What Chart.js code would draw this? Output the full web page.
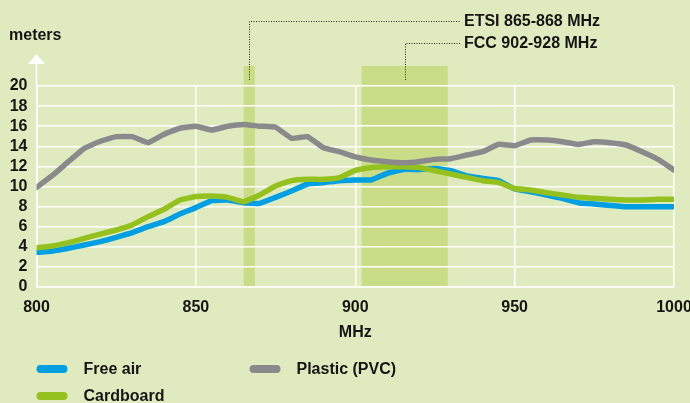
<!DOCTYPE html>
<html>
<head>
<meta charset="utf-8">
<script src="https://cdn.jsdelivr.net/npm/chart.js@4.4.1/dist/chart.umd.min.js"></script>
<style>
  html, body { margin: 0; padding: 0; background: #dfebbe; }
  #wrap { width: 690px; height: 403px; position: relative; }
</style>
</head>
<body>
<div id="wrap"><canvas id="myChart"></canvas></div>
<script>
// frequencies (MHz)
var freqs = [800, 805, 810, 815, 820, 825, 830, 835, 840, 845,
             850, 855, 860, 865, 870, 875, 880, 885, 890, 895,
             900, 905, 910, 915, 920, 925, 930, 935, 940, 945,
             950, 955, 960, 965, 970, 975, 980, 985, 990, 995, 1000]

// read range in meters
var freeAir = [3.45, 3.58, 3.85, 4.18, 4.51, 4.94, 5.4, 6.0, 6.5, 7.26,
               7.9, 8.59, 8.65, 8.39, 8.32, 8.92, 9.55, 10.25, 10.38, 10.58,
               10.65, 10.65, 11.31, 11.7, 11.7, 11.8, 11.57, 11.04, 10.81, 10.58,
               9.75, 9.48, 9.15, 8.82, 8.39, 8.26, 8.12, 7.99, 7.99, 7.99, 7.99]
var cardboard = [3.91, 4.08, 4.41, 4.84, 5.27, 5.67, 6.17, 7.0, 7.73, 8.65,
                 9.0, 9.05, 8.92, 8.49, 9.15, 10.05, 10.58, 10.71, 10.71, 10.88,
                 11.6, 11.9, 11.97, 11.97, 11.9, 11.57, 11.24, 10.91, 10.58, 10.38,
                 9.8, 9.65, 9.38, 9.15, 8.92, 8.82, 8.72, 8.65, 8.65, 8.72, 8.72]
var plastic = [9.9, 11.1, 12.47, 13.8, 14.5, 14.96, 14.96, 14.36, 15.2, 15.8,
               16.0, 15.62, 16.0, 16.18, 16.0, 15.9, 14.8, 14.96, 13.86, 13.46,
               12.95, 12.64, 12.47, 12.37, 12.47, 12.7, 12.77, 13.13, 13.46, 14.2,
               14.06, 14.62, 14.62, 14.46, 14.19, 14.46, 14.36, 14.13, 13.46, 12.7, 11.64]

// regulatory bands
var bandNames = ['ETSI 865-868 MHz', 'FCC 902-928 MHz']
var bandFrom = [865, 902]
var bandTo = [868.5, 929]

var seriesNames = ['Free air', 'Plastic (PVC)', 'Cardboard']
var seriesColors = ['#009fe3', '#8a8a8d', '#95c11f']

var FONT = '"Liberation Sans", Arial, sans-serif'
var INK = '#151515'

function pts(arr) {
    return freqs.map(function(f, i){ return {x: f, y: arr[i]} })
}

var decor = {
    id: 'decor',
    beforeDraw: function(chart) {
        var ctx = chart.ctx, x = chart.scales.x, y = chart.scales.y
        ctx.save()
        ctx.fillStyle = '#c9dc88'
        for (var i = 0; i < bandFrom.length; i++) {
            var x1 = x.getPixelForValue(bandFrom[i])
            var x2 = x.getPixelForValue(bandTo[i])
            var top = y.getPixelForValue(22)
            ctx.fillRect(x1, top, x2 - x1, y.getPixelForValue(0) - top)
        }
        ctx.restore()
    },
    afterDraw: function(chart) {
        var ctx = chart.ctx, x = chart.scales.x, y = chart.scales.y
        var area = chart.chartArea
        ctx.save()

        // y axis arrow
        ctx.strokeStyle = '#ffffff'
        ctx.fillStyle = '#ffffff'
        ctx.lineWidth = 1.5
        ctx.beginPath()
        ctx.moveTo(area.left, area.top)
        ctx.lineTo(area.left, area.top - 25)
        ctx.stroke()
        ctx.beginPath()
        ctx.moveTo(area.left, area.top - 32)
        ctx.lineTo(area.left - 8.5, area.top - 22)
        ctx.lineTo(area.left + 8.5, area.top - 22)
        ctx.closePath()
        ctx.fill()

        // axis unit
        ctx.fillStyle = INK
        ctx.font = 'bold 16px ' + FONT
        ctx.textBaseline = 'middle'
        ctx.textAlign = 'left'
        ctx.fillText('meters', 9, 36)

        // band callouts
        var labelX = 464
        var labelY = [21, 43]
        ctx.strokeStyle = '#222'
        ctx.lineWidth = 1
        ctx.setLineDash([1, 1.5])
        for (var i = 0; i < bandFrom.length; i++) {
            var cx = Math.round(x.getPixelForValue((bandFrom[i] + bandTo[i]) / 2)) + 0.5
            var by = y.getPixelForValue(20.6)
            ctx.beginPath()
            ctx.moveTo(cx, by)
            ctx.lineTo(cx, labelY[i] + 0.5)
            ctx.lineTo(labelX - 4, labelY[i] + 0.5)
            ctx.stroke()
            ctx.fillText(bandNames[i], labelX, labelY[i] + 1)
        }
        ctx.setLineDash([])

        // legend
        var legX = [area.left, area.left + 213, area.left]
        var legY = [369, 369, 396]
        ctx.lineCap = 'round'
        ctx.lineWidth = 8
        for (var j = 0; j < seriesNames.length; j++) {
            ctx.strokeStyle = seriesColors[j]
            ctx.beginPath()
            ctx.moveTo(legX[j] + 4, legY[j])
            ctx.lineTo(legX[j] + 27, legY[j])
            ctx.stroke()
            ctx.fillStyle = INK
            ctx.fillText(seriesNames[j], legX[j] + 47, legY[j] + 1)
        }
        ctx.restore()
    }
}

var ctx = document.getElementById('myChart')
var myChart = new Chart(ctx, {
    type: 'line',
    data: {
        datasets: [{
            label: 'Plastic (PVC)',
            data: pts(plastic),
            borderColor: seriesColors[1]
        }, {
            label: 'Cardboard',
            data: pts(cardboard),
            borderColor: seriesColors[2]
        }, {
            label: 'Free air',
            data: pts(freeAir),
            borderColor: seriesColors[0]
        }]
    },
    options: {
        responsive: true,
        maintainAspectRatio: false,
        animation: false,
        devicePixelRatio: 1,
        layout: { padding: { top: 86, right: 16, bottom: 56, left: 0 } },
        elements: {
            line: { borderWidth: 5.5, tension: 0.1, borderJoinStyle: 'round', borderCapStyle: 'round', fill: false },
            point: { radius: 0, hoverRadius: 0 }
        },
        plugins: {
            legend: { display: false },
            tooltip: { enabled: false }
        },
        scales: {
            x: {
                type: 'linear',
                min: 800,
                max: 1000,
                ticks: {
                    stepSize: 50,
                    padding: 11,
                    autoSkip: false,
                    maxRotation: 0,
                    color: INK,
                    font: { family: FONT, size: 16, weight: 'bold' },
                    callback: function(v) { return String(v) }
                },
                grid: { color: '#ffffff', lineWidth: 1.5, drawTicks: false },
                border: { color: '#ffffff', width: 1.5 },
                title: {
                    display: true,
                    text: 'MHz',
                    color: INK,
                    padding: { top: 0, bottom: 4.4 },
                    font: { family: FONT, size: 16, weight: 'bold' }
                },
                afterFit: function(axis) {
                    axis.height = 60
                    axis.paddingLeft = 0
                    axis.paddingRight = 0
                }
            },
            y: {
                min: 0,
                max: 20,
                ticks: {
                    stepSize: 2,
                    padding: 9,
                    autoSkip: false,
                    color: INK,
                    font: { family: FONT, size: 16, weight: 'bold' },
                    callback: function(v) { return String(v) }
                },
                grid: { color: '#ffffff', lineWidth: 1.5, drawTicks: false },
                border: { color: '#ffffff', width: 1.5 },
                afterFit: function(axis) {
                    axis.width = 36.5
                }
            }
        }
    },
    plugins: [decor]
})
</script>
</body>
</html>
